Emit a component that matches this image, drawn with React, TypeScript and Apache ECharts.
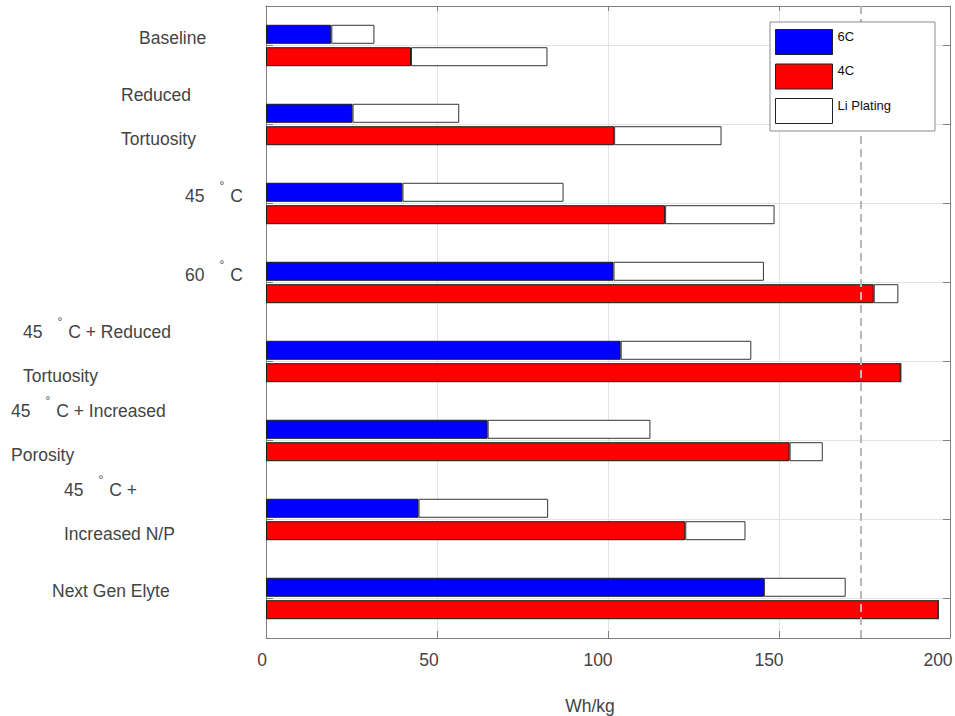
import React, { useEffect, useRef } from "react";
import * as echarts from "echarts";

// Categories (top to bottom)
const categories = [
  "Baseline",
  "Reduced\nTortuosity",
  "45 °C",
  "60 °C",
  "45 °C + Reduced\nTortuosity",
  "45 °C + Increased\nPorosity",
  "45 °C +\nIncreased N/P",
  "Next Gen Elyte",
];

// 6C charge: usable energy (blue) and extra energy lost to Li plating (white)
const energy6C = [19.1, 25.3, 39.9, 101.6, 103.7, 64.8, 44.6, 145.6];
const liPlating6C = [12.6, 31.2, 47.1, 44.0, 38.2, 47.6, 37.9, 23.9];

// 4C charge: usable energy (red) and extra energy lost to Li plating (white)
const energy4C = [42.4, 101.8, 116.7, 177.7, 185.6, 153.1, 122.6, 196.6];
const liPlating4C = [39.9, 31.4, 32.0, 7.2, 0, 9.7, 17.6, 0];

// Reference line
const targetLine = 174;

// X axis ticks
const xMin = 0;
const xMax = 200;
const xStep = 50;

// label indentation (style only)
const labelIndent = [129, 111, 175, 175, 13, 1, 54, 42];

const FONT = "'Liberation Sans', Arial, Helvetica, sans-serif";
const TXT = "#444444";

export default function App() {
  const ref = useRef<HTMLDivElement>(null);

  useEffect(() => {
    if (!ref.current) return;
    const chart = echarts.init(ref.current, undefined, { renderer: "svg" });

    const rich: Record<string, any> = {
      d: { fontSize: 12, color: TXT, fontFamily: FONT, padding: [0, 6, 19, 15], lineHeight: 44 },
    };
    labelIndent.forEach((p, i) => {
      rich["p" + i] = { fontSize: 17.5, color: TXT, fontFamily: FONT, padding: [0, 0, 0, p], lineHeight: 44 };
      rich["q" + i] = { fontSize: 17.5, color: TXT, fontFamily: FONT, lineHeight: 44 };
    });

    const formatLabel = (value: string, index: number) => {
      const lines = value.split("\n");
      return lines
        .map((line) => {
          const parts = line.split(" °");
          let s = `{p${index}|${parts[0]}}`;
          if (parts.length > 1) {
            s += `{d|°}{q${index}|${parts[1]}}`;
          }
          return s;
        })
        .join("\n");
    };

    const xRich = {
      a: { fontSize: 17.5, color: TXT, fontFamily: FONT, padding: [0, 8, 0, 0] },
      b: { fontSize: 17.5, color: TXT, fontFamily: FONT, padding: [0, 16, 0, 0] },
      c: { fontSize: 17.5, color: TXT, fontFamily: FONT, padding: [0, 20, 0, 0] },
      e: { fontSize: 17.5, color: TXT, fontFamily: FONT, padding: [0, 24, 0, 0] },
    };
    const formatX = (v: number) => {
      const k = v === xMin ? "a" : v === xMax ? "e" : v === xStep ? "b" : "c";
      return `{${k}|${v}}`;
    };

    const axisLineStyle = { color: "#808080", width: 1 };

    chart.setOption({
      animation: false,
      backgroundColor: "#ffffff",
      grid: { left: 266, right: 5, top: 6, bottom: 78, containLabel: false, outerBoundsMode: "none" },
      legend: {
        data: ["6C", "4C", "Li Plating"],
        orient: "vertical",
        left: 770,
        top: 22,
        z: 10,
        itemWidth: 57,
        itemHeight: 25,
        itemGap: 8.5,
        padding: [7, 44, 7, 5],
        backgroundColor: "#ffffff",
        borderColor: "#8a8a8a",
        borderWidth: 1,
        borderRadius: 0,
        icon: "rect",
        itemStyle: { borderColor: "#222222", borderWidth: 1 },
        formatter: "{t|{name}}",
        textStyle: {
          fontSize: 13,
          color: "#111111",
          fontFamily: FONT,
          rich: { t: { fontSize: 13, color: "#111111", fontFamily: FONT, padding: [0, 0, 12, 0] } },
        },
        selectedMode: false,
      },
      xAxis: [
        {
          type: "value",
          position: "bottom",
          min: xMin,
          max: xMax,
          interval: xStep,
          name: "Wh/kg",
          nameLocation: "middle",
          nameGap: 59,
          nameTextStyle: { fontSize: 17.5, color: TXT, fontFamily: FONT, padding: [0, 36, 0, 0] },
          axisLine: { show: true, onZero: false, lineStyle: axisLineStyle },
          axisTick: { show: true, inside: true, length: 7, lineStyle: axisLineStyle },
          axisLabel: { fontSize: 17.5, color: TXT, fontFamily: FONT, margin: 13, formatter: formatX, rich: xRich },
          splitLine: { show: true, lineStyle: { color: "#e3e3e3", width: 1 } },
        },
        {
          type: "value",
          position: "top",
          min: xMin,
          max: xMax,
          interval: xStep,
          axisLine: { show: true, onZero: false, lineStyle: axisLineStyle },
          axisTick: { show: true, inside: true, length: 5, lineStyle: axisLineStyle },
          axisLabel: { show: false },
          splitLine: { show: false },
        },
      ],
      yAxis: [
        {
          type: "category",
          data: categories,
          inverse: true,
          position: "left",
          axisLine: { show: true, onZero: false, lineStyle: axisLineStyle },
          axisTick: { show: true, inside: true, length: 7, alignWithLabel: true, lineStyle: axisLineStyle },
          axisLabel: {
            interval: 0,
            align: "left",
            margin: 256,
            padding: [0, 0, 16, 0],
            formatter: formatLabel,
            rich,
          },
          splitLine: { show: true, alignWithLabel: true, lineStyle: { color: "#e3e3e3", width: 1 } },
        },
        {
          type: "category",
          data: categories,
          inverse: true,
          position: "right",
          axisLine: { show: true, onZero: false, lineStyle: axisLineStyle },
          axisTick: { show: true, inside: true, length: 7, alignWithLabel: true, lineStyle: axisLineStyle },
          axisLabel: { show: false },
          splitLine: { show: false },
        },
      ],
      series: [
        {
          name: "6C",
          type: "bar",
          stack: "c6",
          xAxisIndex: 0,
          yAxisIndex: 0,
          barWidth: 19,
          barGap: "18%",
          data: energy6C,
          itemStyle: { color: "#0000ff", borderColor: "#1a1a1a", borderWidth: 1 },
        },
        {
          name: "Li Plating",
          type: "bar",
          stack: "c6",
          xAxisIndex: 0,
          yAxisIndex: 0,
          barWidth: 19,
          barGap: "18%",
          data: liPlating6C,
          itemStyle: { color: "#ffffff", borderColor: "#333333", borderWidth: 1 },
        },
        {
          name: "4C",
          type: "bar",
          stack: "c4",
          xAxisIndex: 0,
          yAxisIndex: 0,
          barWidth: 19,
          barGap: "18%",
          data: energy4C,
          itemStyle: { color: "#ff0000", borderColor: "#1a1a1a", borderWidth: 1 },
          markLine: {
            silent: true,
            symbol: ["none", "none"],
            label: { show: false },
            lineStyle: { color: "#b8b8b8", type: [8, 5], width: 2 },
            data: [{ xAxis: targetLine }],
          },
        },
        {
          name: "Li Plating",
          type: "bar",
          stack: "c4",
          xAxisIndex: 0,
          yAxisIndex: 0,
          barWidth: 19,
          barGap: "18%",
          data: liPlating4C,
          itemStyle: { color: "#ffffff", borderColor: "#333333", borderWidth: 1 },
        },
      ],
    });

    return () => chart.dispose();
  }, []);

  return (
    <div
      ref={ref}
      style={{ position: "fixed", left: 0, top: 0, width: 955, height: 716 }}
    />
  );
}
